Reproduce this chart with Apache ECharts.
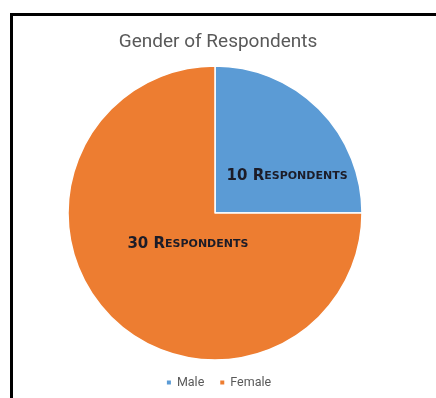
<!DOCTYPE html>
<html><head><meta charset="utf-8">
<script src="https://cdn.jsdelivr.net/npm/echarts@6/dist/echarts.min.js"></script>
<style>
html,body{margin:0;padding:0;background:#fff;}
#frame{position:absolute;left:10px;top:13px;width:426px;height:385px;border-left:3px solid #000;border-top:3px solid #000;box-sizing:border-box;}
#c{position:absolute;left:0;top:0;width:436px;height:398px;}
</style></head>
<body>
<div id="c"></div>
<div id="frame"></div>
<script>
const categories = ["Male", "Female"];
const values = [10, 30];
const colors = ["#5b9bd5", "#ed7d31"];
const chartTitle = "Gender of Respondents";

const chart = echarts.init(document.getElementById('c'));
chart.setOption({
  backgroundColor: '#ffffff',
  title: {
    text: chartTitle, left: 'center', top: 28,
    textStyle: {fontFamily: 'Roboto', fontWeight: 'normal', fontSize: 19, color: '#595959'}
  },
  legend: {
    data: categories, top: 376, left: 'center', icon: 'rect',
    itemWidth: 6, itemHeight: 6, itemGap: 14, padding: 0,
    textStyle: {fontFamily: 'Roboto', fontSize: 12.5, color: '#595959'}
  },
  series: [{
    type: 'pie', center: [215, 213], radius: 147, startAngle: 90, clockwise: true,
    animation: false,
    data: categories.map((n, i) => ({name: n, value: values[i], itemStyle: {color: colors[i]}})),
    itemStyle: {borderColor: '#fff', borderWidth: 1.5},
    label: {
      show: true, position: 'inside',
      formatter: p => '{a|' + p.value + ' R}{b|ESPONDENTS}',
      rich: {
        a: {fontFamily: 'DejaVu Sans', fontWeight: 'bold', fontSize: 15, color: '#1c1c28'},
        b: {fontFamily: 'DejaVu Sans', fontWeight: 'bold', fontSize: 11, color: '#1c1c28'}
      }
    },
    labelLayout: p => p.dataIndex === 0 ? {dx: 18, dy: 17} : {dx: 27, dy: -23},
    labelLine: {show: false}
  }]
});
</script>
</body></html>
